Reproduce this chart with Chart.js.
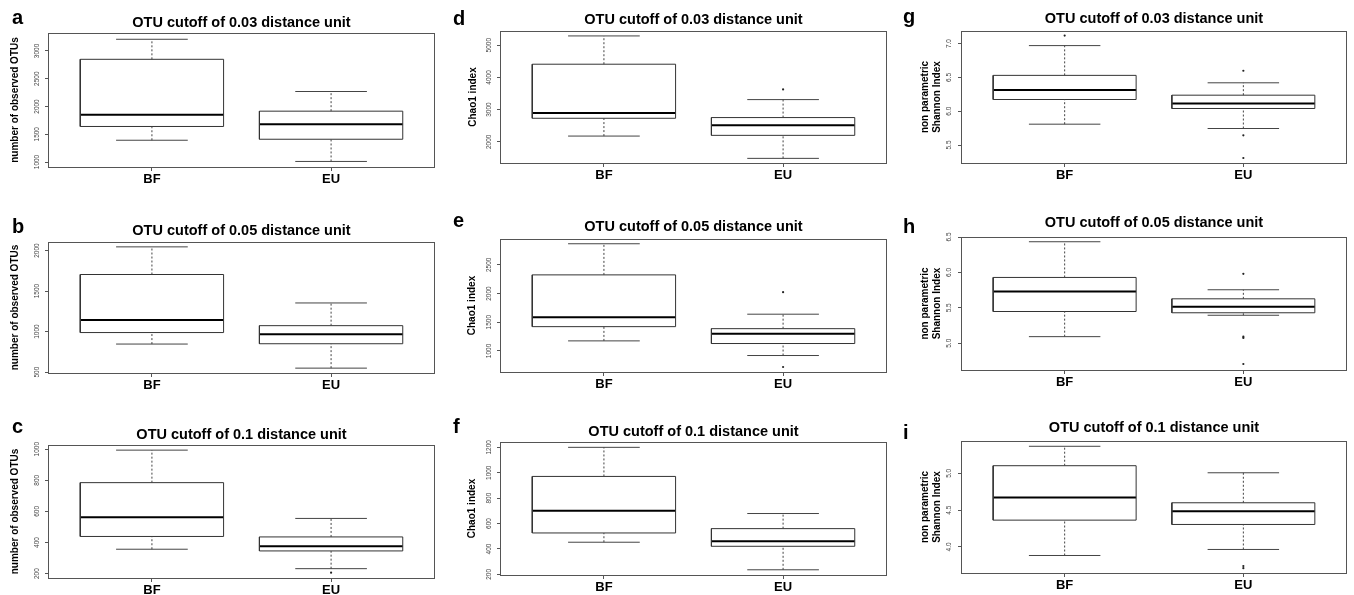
<!DOCTYPE html>
<html><head><meta charset="utf-8">
<script src="https://cdn.jsdelivr.net/npm/chart.js@4.4.0/dist/chart.umd.min.js"></script>
<style>
html,body{margin:0;padding:0;background:#fff;}
#wrap{position:relative;width:1354px;height:595px;overflow:hidden;background:#fff;font-family:"Liberation Sans",Arial,sans-serif;}
#wrap canvas{position:absolute;}
.lt{position:absolute;font-weight:bold;font-size:20px;line-height:20px;color:#000;font-family:"Liberation Sans",Arial,sans-serif;}
</style></head><body><div id="wrap"></div>
<script>
// ---------- data ----------
const categories = ['BF', 'EU'];
const panelLetters = ['a', 'b', 'c', 'd', 'e', 'f', 'g', 'h', 'i'];
const panelTitles = [
  'OTU cutoff of 0.03 distance unit', 'OTU cutoff of 0.05 distance unit', 'OTU cutoff of 0.1 distance unit',
  'OTU cutoff of 0.03 distance unit', 'OTU cutoff of 0.05 distance unit', 'OTU cutoff of 0.1 distance unit',
  'OTU cutoff of 0.03 distance unit', 'OTU cutoff of 0.05 distance unit', 'OTU cutoff of 0.1 distance unit'
];
const yTitleOTU = 'number of observed OTUs';
const yTitleChao = 'Chao1 index';
const yTitleShannon = ['non parametric', 'Shannon Index'];

// [lower whisker, Q1, median, Q3, upper whisker] for BF, EU
const boxA = [[1392, 1640, 1851, 2850, 3211], [1010, 1410, 1681, 1916, 2270]];
const boxB = [[846, 988, 1143, 1704, 2045], [549, 850, 968, 1073, 1353]];
const boxC = [[357, 439, 563, 785, 994], [232, 346, 376, 436, 555]];
const boxD = [[2177, 2730, 2894, 4410, 5289], [1484, 2199, 2512, 2752, 3310]];
const boxE = [[1175, 1423, 1587, 2325, 2867], [920, 1129, 1301, 1388, 1640]];
const boxF = [[453, 526, 700, 971, 1200], [236, 421, 461, 560, 679]];
const boxG = [[5.808, 6.173, 6.312, 6.53, 6.97], [5.744, 6.04, 6.114, 6.237, 6.42]];
const boxH = [[5.093, 5.448, 5.731, 5.929, 6.433], [5.395, 5.43, 5.514, 5.627, 5.755]];
const boxI = [[3.883, 4.364, 4.673, 5.104, 5.368], [3.965, 4.305, 4.486, 4.6, 5.008]];

// outliers for BF, EU
const outA = [[], []];
const outB = [[], []];
const outC = [[], [206]];
const outD = [[], [3627]];
const outE = [[], [2023, 720]];
const outF = [[], []];
const outG = [[7.118], [6.598, 5.643, 5.308]];
const outH = [[], [5.98, 5.093, 5.075, 4.707]];
const outI = [[], [3.74, 3.71]];

// y axis ranges
const yRangeA = [910, 3324];
const yRangeB = [489, 2105];
const yRangeC = [172, 1027];
const yRangeD = [1340, 5442];
const yRangeE = [633, 2950];
const yRangeF = [195, 1242];
const yRangeG = [5.234, 7.186];
const yRangeH = [4.622, 6.5];
const yRangeI = [3.645, 5.44];

// y ticks and labels
const yTicksA = [1000, 1500, 2000, 2500, 3000];
const yTickLabelsA = ['1000', '1500', '2000', '2500', '3000'];
const yTicksB = [500, 1000, 1500, 2000];
const yTickLabelsB = ['500', '1000', '1500', '2000'];
const yTicksC = [200, 400, 600, 800, 1000];
const yTickLabelsC = ['200', '400', '600', '800', '1000'];
const yTicksD = [2000, 3000, 4000, 5000];
const yTickLabelsD = ['2000', '3000', '4000', '5000'];
const yTicksE = [1000, 1500, 2000, 2500];
const yTickLabelsE = ['1000', '1500', '2000', '2500'];
const yTicksF = [200, 400, 600, 800, 1000, 1200];
const yTickLabelsF = ['200', '400', '600', '800', '1000', '1200'];
const yTicksG = [5.5, 6.0, 6.5, 7.0];
const yTickLabelsG = ['5.5', '6.0', '6.5', '7.0'];
const yTicksH = [5.0, 5.5, 6.0, 6.5];
const yTickLabelsH = ['5.0', '5.5', '6.0', '6.5'];
const yTicksI = [4.0, 4.5, 5.0];
const yTickLabelsI = ['4.0', '4.5', '5.0'];

// ---------- layout (positions, not data) ----------
const layout = {
  a: {box: [48, 33, 435, 167], gap: 10, letter: [12, 7], tickOff: 10.5, ytPad: 9.7},
  b: {box: [48, 242, 435, 373], gap: 11, letter: [12, 216], tickOff: 10.5, ytPad: 9.5},
  c: {box: [48, 445, 435, 578], gap: 10.5, letter: [12, 416], tickOff: 10.5, ytPad: 9.5},
  d: {box: [500, 31, 887, 163], gap: 11.5, letter: [453, 8], tickOff: 10.5, ytPad: 15},
  e: {box: [500, 239, 887, 372], gap: 12, letter: [453, 210], tickOff: 10.5, ytPad: 14.5},
  f: {box: [500, 442, 887, 575], gap: 10.5, letter: [453, 416], tickOff: 10.5, ytPad: 14.5},
  g: {box: [961, 31, 1347, 163], gap: 12.5, letter: [903, 6], tickOff: 11.5, ytPad: 6},
  h: {box: [961, 237, 1347, 370], gap: 14.5, letter: [903, 216], tickOff: 11.5, ytPad: 6},
  i: {box: [961, 441, 1347, 573], gap: 13, letter: [903, 422], tickOff: 11.5, ytPad: 6}
};

const panels = {
  a: [boxA, outA, yRangeA, yTicksA, yTickLabelsA, yTitleOTU],
  b: [boxB, outB, yRangeB, yTicksB, yTickLabelsB, yTitleOTU],
  c: [boxC, outC, yRangeC, yTicksC, yTickLabelsC, yTitleOTU],
  d: [boxD, outD, yRangeD, yTicksD, yTickLabelsD, yTitleChao],
  e: [boxE, outE, yRangeE, yTicksE, yTickLabelsE, yTitleChao],
  f: [boxF, outF, yRangeF, yTicksF, yTickLabelsF, yTitleChao],
  g: [boxG, outG, yRangeG, yTicksG, yTickLabelsG, yTitleShannon],
  h: [boxH, outH, yRangeH, yTicksH, yTickLabelsH, yTitleShannon],
  i: [boxI, outI, yRangeI, yTicksI, yTickLabelsI, yTitleShannon]
};

const FONT = '"Liberation Sans", Arial, sans-serif';
Chart.defaults.font.family = FONT;
const AXIS_W = 48, AXIS_H = 24, RIGHT_PAD = 4, TITLE_SIZE = 14.5, TICK_LEN = 3, TICK_FONT = 6.5;
const BOX_HALF = 0.4, CAP_HALF = 0.2;

const measureCtx = document.createElement('canvas').getContext('2d');
measureCtx.font = TICK_FONT + 'px ' + FONT;

function seg(points, style) {
  return Object.assign({
    data: points.map(p => ({x: p[0], y: p[1]})),
    showLine: true, pointRadius: 0, pointHoverRadius: 0, fill: false, tension: 0,
    borderJoinStyle: 'miter', borderCapStyle: 'butt'
  }, style);
}
const WHISKER = {borderColor: '#444', borderWidth: 1, borderDash: [2, 2]};
const CAP = {borderColor: '#444', borderWidth: 1};
const BOX = {borderColor: '#333', borderWidth: 1};
const MED = {borderColor: '#000', borderWidth: 2};

function boxDatasets(stats, outliers) {
  const ds = [];
  stats.forEach((s, i) => {
    const x = i + 1;
    const [lo, q1, med, q3, hi] = s;
    ds.push(seg([[x, q3], [x, hi]], WHISKER));
    ds.push(seg([[x, lo], [x, q1]], WHISKER));
    ds.push(seg([[x - CAP_HALF, hi], [x + CAP_HALF, hi]], CAP));
    ds.push(seg([[x - CAP_HALF, lo], [x + CAP_HALF, lo]], CAP));
    ds.push(seg([[x - BOX_HALF, q1], [x + BOX_HALF, q1], [x + BOX_HALF, q3], [x - BOX_HALF, q3], [x - BOX_HALF, q1]], BOX));
    ds.push(seg([[x - BOX_HALF, med], [x + BOX_HALF, med]], MED));
    if (outliers[i].length) {
      ds.push({data: outliers[i].map(v => ({x: x, y: v})), showLine: false,
        pointRadius: 1.1, pointHoverRadius: 1.1, backgroundColor: '#222', borderWidth: 0});
    }
  });
  return ds;
}

const framePlugin = {
  id: 'frame',
  afterDatasetsDraw(chart) {
    const {ctx, chartArea: {left, top, right, bottom}} = chart;
    ctx.save();
    ctx.strokeStyle = '#555';
    ctx.lineWidth = 1;
    ctx.strokeRect(left + 0.5, top + 0.5, right - left - 1, bottom - top);
    ctx.restore();
  }
};

const wrap = document.getElementById('wrap');

panelLetters.forEach((k, idx) => {
  const [stats, outliers, yRange, yTicks, yTickLabels, yTitle] = panels[k];
  const L = layout[k];
  const [pl, pt, pr, pb] = L.box;
  const titleH = Math.ceil(L.gap + 11.25);
  const padBottom = L.gap - TITLE_SIZE / 2;
  const padTop = titleH - TITLE_SIZE - padBottom;

  const cv = document.createElement('canvas');
  const w = pr - pl + AXIS_W + RIGHT_PAD;
  const h = titleH + (pb - pt) + AXIS_H;
  cv.width = w; cv.height = h;
  cv.style.left = (pl - AXIS_W) + 'px';
  cv.style.top = (pt - titleH) + 'px';
  cv.style.width = w + 'px'; cv.style.height = h + 'px';
  wrap.appendChild(cv);

  let widest = 0;
  yTickLabels.forEach(t => { widest = Math.max(widest, measureCtx.measureText(t).width); });
  const tickPad = Math.max(0, L.tickOff - TICK_LEN - widest / 2);

  new Chart(cv, {
    type: 'scatter',
    data: {datasets: boxDatasets(stats, outliers)},
    options: {
      responsive: false, animation: false, devicePixelRatio: 1,
      events: [],
      layout: {padding: {left: 0, right: RIGHT_PAD, top: 0, bottom: 0}},
      plugins: {
        legend: {display: false}, tooltip: {enabled: false},
        title: {display: true, text: panelTitles[idx], fullSize: false, color: '#000',
          font: {size: TITLE_SIZE, weight: 'bold', lineHeight: 1},
          padding: {top: padTop, bottom: padBottom}}
      },
      scales: {
        x: {
          type: 'linear', min: 0.42, max: 2.58,
          afterBuildTicks: s => { s.ticks = categories.map((c, i) => ({value: i + 1})); },
          afterFit: s => { s.height = AXIS_H; },
          grid: {display: true, drawOnChartArea: false, drawTicks: true, tickLength: 4, color: '#555'},
          border: {display: false},
          ticks: {callback: v => categories[Math.round(v) - 1], font: {size: 13, weight: 'bold'},
            color: '#000', padding: 1, maxRotation: 0, minRotation: 0, autoSkip: false}
        },
        y: {
          type: 'linear', min: yRange[0], max: yRange[1],
          afterBuildTicks: s => { s.ticks = yTicks.map(v => ({value: v})); },
          afterFit: s => { s.width = AXIS_W; },
          grid: {display: true, drawOnChartArea: false, drawTicks: true, tickLength: TICK_LEN, color: '#555'},
          border: {display: false},
          ticks: {callback: v => yTickLabels[yTicks.indexOf(v)], font: {size: TICK_FONT}, color: '#444',
            minRotation: 90, maxRotation: 90, crossAlign: 'center', padding: tickPad, autoSkip: false},
          title: {display: true, text: yTitle, color: '#000', font: {size: 10, weight: 'bold', lineHeight: 1.2},
            padding: {top: L.ytPad, bottom: 0}}
        }
      }
    },
    plugins: [framePlugin]
  });

  const lt = document.createElement('div');
  lt.className = 'lt';
  lt.textContent = k;
  lt.style.left = L.letter[0] + 'px';
  lt.style.top = L.letter[1] + 'px';
  wrap.appendChild(lt);
});
</script></body></html>
